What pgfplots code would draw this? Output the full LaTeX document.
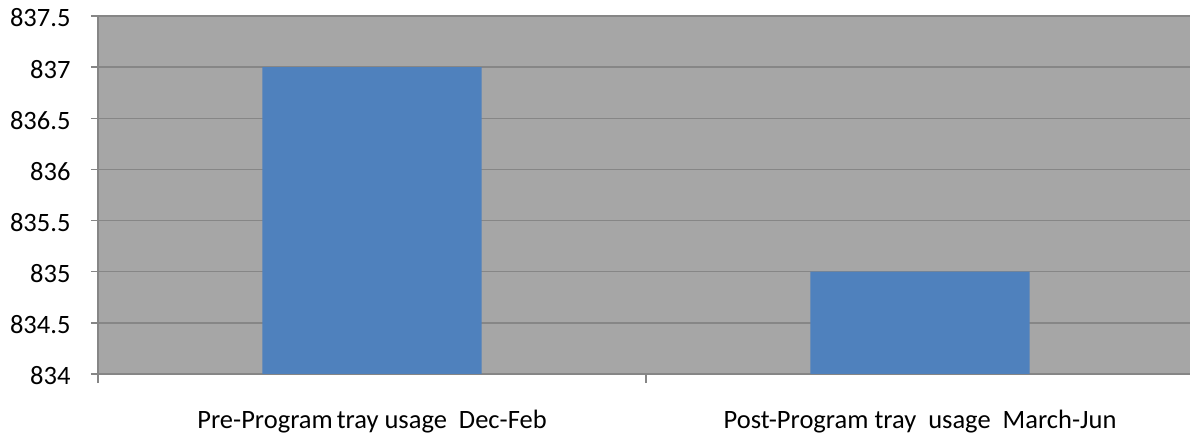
\documentclass[border=0pt]{standalone}
\usepackage{fontspec}
\setmainfont{Carlito}
\usepackage{pgfplots}
\pgfplotsset{compat=1.18}
\definecolor{bgray}{HTML}{A6A6A6}
\definecolor{gline}{HTML}{868686}
\definecolor{barblue}{HTML}{4F81BD}
\begin{document}
\begin{tikzpicture}
\useasboundingbox (0,0) rectangle (1190bp,438bp);
\begin{axis}[
  at={(98bp,64bp)}, anchor=south west,
  scale only axis,
  width=1092bp, height=358bp,
  xmin=-0.5, xmax=1.4927,
  ymin=834, ymax=837.5,
  ytick={834,834.5,835,835.5,836,836.5,837,837.5},
  yticklabels={834,834.5,835,835.5,836,836.5,837,837.5},
  xtick={0,1},
  xticklabels={Pre-Program\hspace{-2bp} tray usage\ \ Dec-Feb, Post-Program tray\ \ usage\ \ March-Jun},
  minor xtick={-0.5,0.5},
  axis x line*=bottom, axis y line*=left,
  axis line style={gline, line width=1.5bp, -},
  ymajorgrids,
  major grid style={gline, line width=1.5bp},
  axis background/.style={fill=bgray},
  tick align=outside,
  major tick length=7bp,
  minor tick length=9bp,
  xtick style={draw=none},
  minor x tick style={draw=gline, line width=1.5bp},
  ytick style={draw=gline, line width=1.5bp},
  /pgf/number format/assume math mode=true,
  tick label style={font=\fontsize{26.5bp}{30bp}\selectfont, text=black},
  yticklabel style={xshift=-17bp, yshift=-2bp},
  xticklabel style={yshift=-26bp},
  ybar, bar width=219bp,
]
\addplot[fill=barblue, draw=none] coordinates {(0,837) (1,835)};
\end{axis}
\end{tikzpicture}
\end{document}
